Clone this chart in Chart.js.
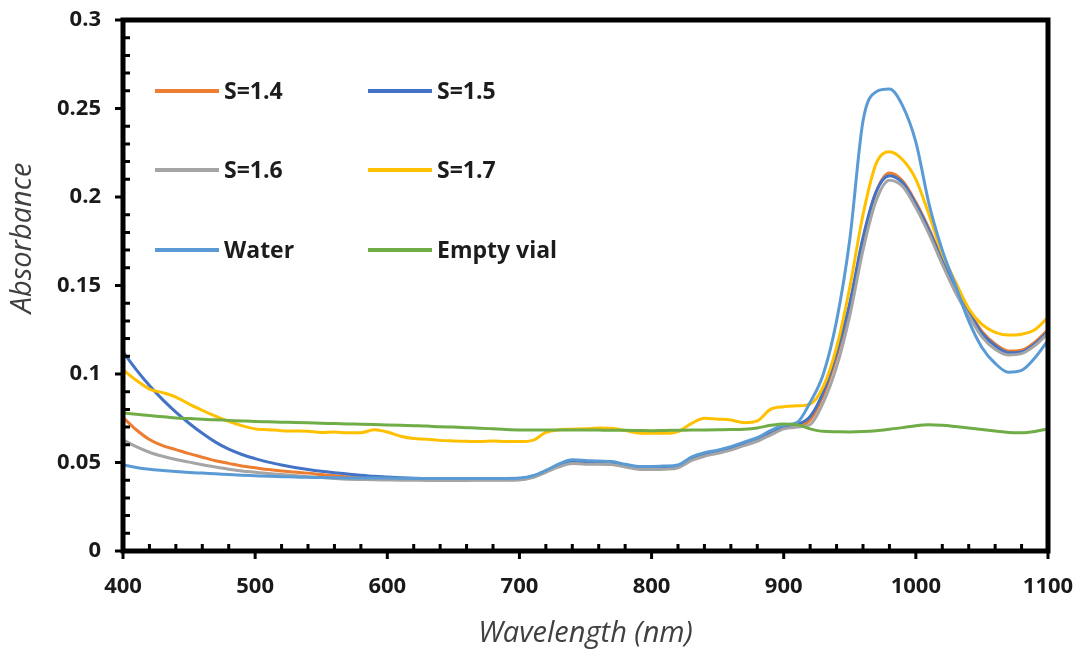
<!DOCTYPE html>
<html>
<head>
<meta charset="utf-8">
<script src="https://cdn.jsdelivr.net/npm/chart.js@4.4.1/dist/chart.umd.min.js"></script>
<style>
  html, body { margin: 0; padding: 0; background: #fff; }
</style>
</head>
<body>
<canvas id="chart" width="1079" height="655"></canvas>
<script>
const wavelengths = [
  400, 410, 420, 430, 440, 450, 460, 470, 480, 490,
  500, 510, 520, 530, 540, 550, 560, 570, 580, 590,
  600, 610, 620, 630, 640, 650, 660, 670, 680, 690,
  700, 710, 720, 730, 740, 750, 760, 770, 780, 790,
  800, 810, 820, 830, 840, 850, 860, 870, 880, 890,
  900, 910, 920, 930, 940, 950, 960, 970, 980, 990,
  1000, 1010, 1020, 1030, 1040, 1050, 1060, 1070, 1080, 1090,
  1100,
];

const s14 = [
  0.0755, 0.0685, 0.063, 0.0595, 0.0573, 0.055, 0.053, 0.051, 0.0495, 0.048,
  0.047, 0.046, 0.0452, 0.0446, 0.044, 0.0432, 0.0425, 0.042, 0.0415, 0.0412,
  0.0408, 0.0406, 0.0405, 0.0404, 0.0403, 0.0402, 0.0402, 0.0402, 0.0402, 0.0403,
  0.0405, 0.042, 0.045, 0.048, 0.05, 0.0495, 0.0495, 0.049, 0.048, 0.0467,
  0.0465, 0.0467, 0.0475, 0.0518, 0.054, 0.0558, 0.0578, 0.0602, 0.0628, 0.0665,
  0.0695, 0.0705, 0.074, 0.088, 0.11, 0.138, 0.176, 0.203, 0.2135, 0.209,
  0.197, 0.182, 0.165, 0.15, 0.136, 0.124, 0.117, 0.113, 0.1135, 0.118,
  0.125,
];

const s15 = [
  0.1125, 0.1025, 0.0935, 0.0855, 0.0785, 0.0722, 0.0665, 0.0615, 0.0575, 0.0545,
  0.0522, 0.0502, 0.0486, 0.0472, 0.046, 0.045, 0.0442, 0.0435, 0.0428, 0.0422,
  0.0418, 0.0414, 0.0411, 0.0409, 0.0407, 0.0406, 0.0405, 0.0405, 0.0405, 0.0406,
  0.0408, 0.0418, 0.0448, 0.0485, 0.051, 0.0505, 0.0502, 0.05, 0.0485, 0.0472,
  0.0472, 0.0475, 0.048, 0.0525, 0.055, 0.0565, 0.0585, 0.061, 0.0635, 0.0675,
  0.0705, 0.0715, 0.076, 0.09, 0.112, 0.14, 0.177, 0.203, 0.212, 0.208,
  0.196, 0.181, 0.164, 0.149, 0.135, 0.123, 0.116, 0.112, 0.1125, 0.117,
  0.124,
];

const s16 = [
  0.0628, 0.059, 0.0558, 0.0535, 0.0517, 0.0502, 0.0487, 0.0474, 0.0462, 0.0452,
  0.0445, 0.0438, 0.0432, 0.0426, 0.042, 0.0415, 0.041, 0.0406, 0.0404, 0.0402,
  0.0401, 0.04, 0.04, 0.0399, 0.0399, 0.0399, 0.0399, 0.04, 0.04, 0.04,
  0.0401, 0.0415, 0.0445, 0.0475, 0.0495, 0.049, 0.049, 0.0488, 0.0475, 0.0462,
  0.046, 0.0462, 0.047, 0.051, 0.0535, 0.0552, 0.057, 0.0595, 0.062, 0.0655,
  0.069, 0.07, 0.0715, 0.084, 0.104, 0.133, 0.17, 0.198, 0.2095, 0.206,
  0.194, 0.179, 0.162, 0.146, 0.133, 0.121, 0.114, 0.1108, 0.1115, 0.116,
  0.123,
];

const s17 = [
  0.1024, 0.0965, 0.0915, 0.0895, 0.087, 0.083, 0.0795, 0.0762, 0.0732, 0.0708,
  0.069, 0.0685, 0.068, 0.0678, 0.0676, 0.067, 0.0672, 0.0668, 0.0668, 0.0685,
  0.0672, 0.0648, 0.0635, 0.0632, 0.0625, 0.0622, 0.062, 0.0618, 0.0622, 0.0618,
  0.0618, 0.0625, 0.067, 0.0685, 0.0688, 0.069, 0.0695, 0.0693, 0.068, 0.0667,
  0.0665, 0.0665, 0.0675, 0.072, 0.075, 0.0745, 0.074, 0.0725, 0.0735, 0.08,
  0.0815, 0.082, 0.083, 0.093, 0.115, 0.149, 0.19, 0.219, 0.2255, 0.221,
  0.21, 0.19, 0.168, 0.152, 0.137, 0.128, 0.1235, 0.122, 0.1225, 0.125,
  0.132,
];

const water = [
  0.0486, 0.0472, 0.0462, 0.0455, 0.0449, 0.0444, 0.044, 0.0436, 0.0432, 0.0428,
  0.0425, 0.0422, 0.042, 0.0418, 0.0416, 0.0415, 0.0414, 0.0413, 0.0412, 0.0412,
  0.0412, 0.0411, 0.041, 0.041, 0.041, 0.041, 0.041, 0.041, 0.041, 0.041,
  0.0412, 0.0425, 0.0455, 0.0492, 0.0515, 0.0512, 0.0508, 0.0505, 0.049, 0.0478,
  0.0478, 0.048, 0.0486, 0.053, 0.0555, 0.057, 0.059, 0.0615, 0.064, 0.068,
  0.071, 0.0725, 0.084, 0.1, 0.13, 0.176, 0.243, 0.2595, 0.261, 0.2515,
  0.231, 0.196, 0.17, 0.15, 0.13, 0.115, 0.106, 0.101, 0.102, 0.109,
  0.119,
];

const emptyVial = [
  0.0779, 0.0772, 0.0765, 0.0758, 0.0752, 0.0748, 0.0744, 0.0741, 0.0738, 0.0735,
  0.0732, 0.073, 0.0728, 0.0726, 0.0724, 0.0722, 0.072, 0.0718, 0.0716, 0.0714,
  0.0712, 0.071, 0.0708, 0.0706, 0.0702, 0.07, 0.0697, 0.0694, 0.069, 0.0686,
  0.0684, 0.0684, 0.0683, 0.0683, 0.0684, 0.0684, 0.0683, 0.0682, 0.0682, 0.0681,
  0.068, 0.0681, 0.0682, 0.0683, 0.0684, 0.0685, 0.0686, 0.0688, 0.0695, 0.071,
  0.0718, 0.0714, 0.069, 0.0676, 0.0674, 0.0673, 0.0675, 0.068, 0.0688, 0.0697,
  0.0708, 0.0713, 0.071, 0.0703, 0.0695, 0.0686, 0.0678, 0.067, 0.0668, 0.0675,
  0.069,
];

const seriesNames = ['S=1.4', 'S=1.5', 'S=1.6', 'S=1.7', 'Water', 'Empty vial'];
const seriesValues = [s14, s15, s16, s17, water, emptyVial];
const seriesColors = ['#ED7D31', '#4472C4', '#A5A5A5', '#FFC000', '#5B9BD5', '#70AD47'];

const xTickLabels = ['400', '500', '600', '700', '800', '900', '1000', '1100'];
const yTickLabels = ['0', '0.05', '0.1', '0.15', '0.2', '0.25', '0.3'];

const tickFont = { family: 'Open Sans', size: 22, weight: 'bold' };

// box round the plot, ticks outside for majors and inside for minors
const framePlugin = {
  id: 'frame',
  afterDatasetsDraw(chart) {
    const { ctx, chartArea: a, scales: { x, y } } = chart;
    ctx.save();
    ctx.strokeStyle = '#000';
    ctx.lineWidth = 3;
    ctx.beginPath();
    for (let v = 400; v <= 1100; v += 20) {
      const px = x.getPixelForValue(v);
      if (v % 100 === 0) {
        ctx.moveTo(px, a.bottom);
        ctx.lineTo(px, a.bottom + 8);
      } else {
        ctx.moveTo(px, a.bottom);
        ctx.lineTo(px, a.bottom - 7);
      }
    }
    for (let k = 0; k <= 30; k++) {
      const py = y.getPixelForValue(k / 100);
      if (k % 5 === 0) {
        ctx.moveTo(a.left, py);
        ctx.lineTo(a.left - 8, py);
      } else {
        ctx.moveTo(a.left, py);
        ctx.lineTo(a.left + 7, py);
      }
    }
    ctx.stroke();
    ctx.lineWidth = 5;
    ctx.strokeRect(a.left, a.top, a.right - a.left, a.bottom - a.top);
    ctx.restore();
  },
  afterDraw(chart) {
    const { ctx, chartArea: a } = chart;
    ctx.save();
    // axis titles
    ctx.fillStyle = '#404040';
    ctx.font = 'italic 29px "Open Sans"';
    ctx.textAlign = 'center';
    ctx.textBaseline = 'middle';
    ctx.fillText('Wavelength (nm)', (a.left + a.right) / 2, 634);
    ctx.translate(23, 238);
    ctx.rotate(-Math.PI / 2);
    ctx.fillText('Absorbance', 0, 0);
    ctx.restore();

    // legend, two columns, three rows inside the plot
    ctx.save();
    ctx.font = 'bold 23px "Open Sans"';
    ctx.textAlign = 'left';
    ctx.textBaseline = 'middle';
    const cols = [155, 368];
    const rows = [91, 170, 250];
    chart.data.datasets.forEach((ds, i) => {
      const lx = cols[i % 2];
      const ly = rows[Math.floor(i / 2)];
      ctx.strokeStyle = ds.borderColor;
      ctx.lineWidth = 4;
      ctx.beginPath();
      ctx.moveTo(lx, ly);
      ctx.lineTo(lx + 64, ly);
      ctx.stroke();
      ctx.fillStyle = '#1c1c1c';
      ctx.fillText(ds.label, lx + 69, ly + 1);
    });
    ctx.restore();
  },
};

new Chart(document.getElementById('chart'), {
  type: 'line',
  data: {
    datasets: seriesNames.map((name, i) => ({
      label: name,
      data: wavelengths.map((w, j) => ({ x: w, y: seriesValues[i][j] })),
      borderColor: seriesColors[i],
      borderWidth: 3,
      pointRadius: 0,
      cubicInterpolationMode: 'monotone',
      fill: false,
      // last series on top, like the spreadsheet
      order: seriesNames.length - 1 - i,
    })),
  },
  options: {
    responsive: false,
    animation: false,
    devicePixelRatio: 1,
    layout: {
      padding: { top: 20, right: 31, left: 0, bottom: 0 },
    },
    scales: {
      x: {
        type: 'linear',
        min: 400,
        max: 1100,
        // fixed size, and no extra room for the end labels
        afterFit: (scale) => {
          scale.height = 104;
          scale.paddingLeft = 0;
          scale.paddingRight = 0;
        },
        grid: { display: false, drawTicks: false },
        border: { display: false },
        ticks: {
          stepSize: 100,
          padding: 23,
          color: '#1a1a1a',
          font: tickFont,
          maxRotation: 0,
          callback: (v) => xTickLabels[Math.round((v - 400) / 100)],
        },
      },
      y: {
        min: 0,
        max: 0.3,
        afterFit: (scale) => {
          scale.width = 123;
          scale.paddingTop = 0;
          scale.paddingBottom = 0;
        },
        grid: { display: false, drawTicks: false },
        border: { display: false },
        ticks: {
          stepSize: 0.05,
          padding: 22,
          color: '#1a1a1a',
          font: tickFont,
          callback: (v) => yTickLabels[Math.round(v / 0.05)],
        },
      },
    },
    plugins: {
      legend: { display: false },
      tooltip: { enabled: false },
    },
  },
  plugins: [framePlugin],
});
</script>
</body>
</html>
